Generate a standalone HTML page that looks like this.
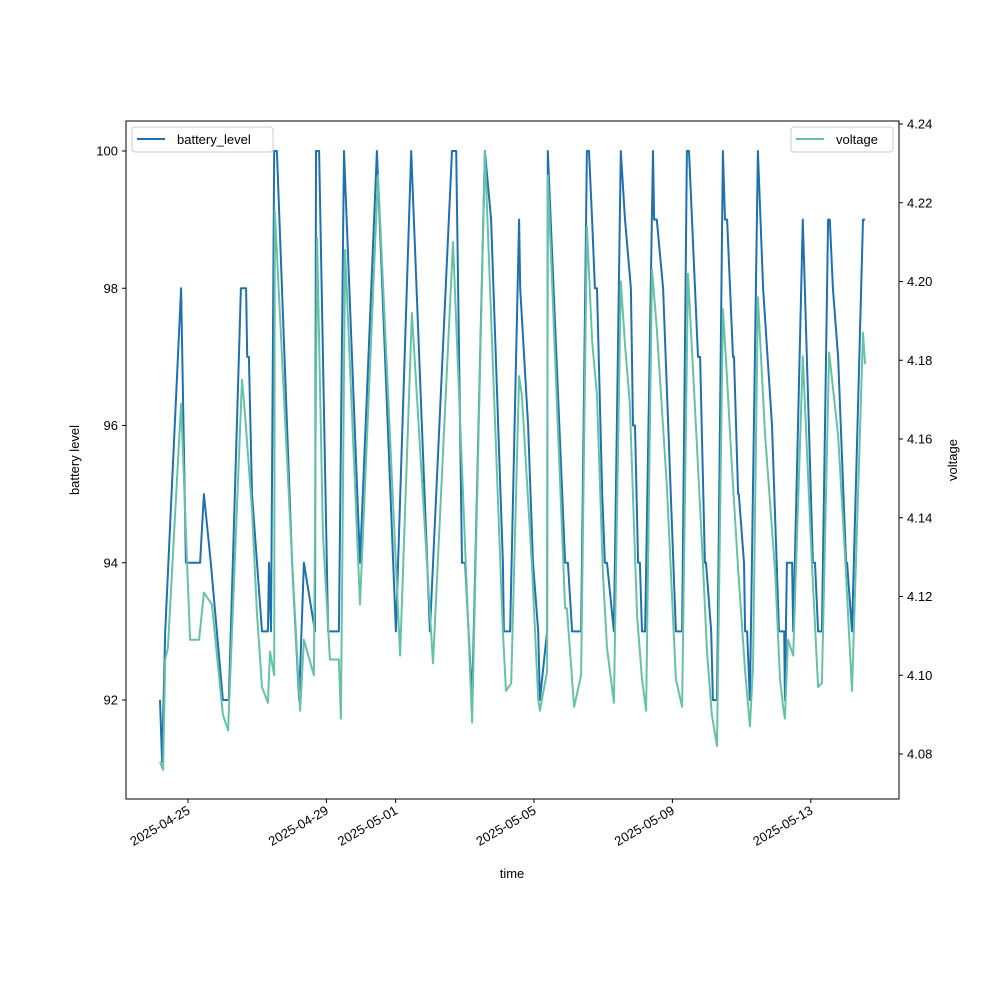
<!DOCTYPE html>
<html><head><meta charset="utf-8"><style>
body{margin:0;background:#fff}
svg text{font-family:"Liberation Sans","DejaVu Sans",sans-serif;font-size:13px;fill:#000}
</style></head><body>
<svg id="chart" width="1000" height="1000" viewBox="0 0 1000 1000" xmlns="http://www.w3.org/2000/svg">
<rect x="0" y="0" width="1000" height="1000" fill="#fff"/>
<g id="plot"></g>
</svg>
<script>
const battT=[-0.81,-0.75,-0.66,-0.20,-0.06,0.35,0.46,0.66,1.01,1.18,1.53,1.68,1.71,1.76,1.85,2.14,2.31,2.34,2.40,2.49,2.57,3.01,3.21,3.35,3.67,3.70,3.79,4.05,4.36,4.51,4.97,5.46,6.01,6.45,6.99,7.63,7.75,7.92,8.01,8.21,8.58,8.76,9.10,9.13,9.31,9.57,9.60,9.83,9.97,10.12,10.17,10.38,10.40,10.90,10.98,11.10,11.36,11.53,11.59,11.68,11.76,11.82,11.97,12.05,12.11,12.31,12.51,12.63,12.80,12.86,12.92,13.01,13.06,13.12,13.21,13.44,13.47,13.55,13.73,14.10,14.28,14.42,14.48,14.74,14.80,14.94,14.97,15.12,15.17,15.29,15.46,15.52,15.58,15.75,15.78,15.90,15.92,16.07,16.10,16.16,16.24,16.47,16.62,16.88,17.08,17.23,17.25,17.31,17.46,17.49,17.77,18.06,18.12,18.21,18.32,18.50,18.55,18.64,18.79,19.02,19.05,19.19,19.51,19.57];
const battV=[92,91.1,93,98,94,94,95,94,92,92,98,98,97,97,95,93,93,94,93,100,100,94,92,94,93,100,100,93,93,100,94,100,93,100,93,100,100,94,94,92,100,99,94,93,93,99,98,96,94,93,92,93,100,94,94,93,93,100,100,99,98,98,95,94,94,93,100,99,98,96,96,94,94,93,93,100,99,99,98,93,93,100,100,97,97,94,94,93,92,92,100,99,99,97,97,95,95,94,93,93,92,100,98,96,93,93,92,94,94,93,99,94,94,93,93,99,99,98,97,94,94,93,99,99];
const voltT=[-0.81,-0.72,-0.66,-0.58,-0.20,-0.03,0.06,0.32,0.46,0.69,1.01,1.16,1.56,1.65,1.85,1.99,2.14,2.31,2.37,2.49,2.51,3.01,3.24,3.35,3.64,3.73,3.90,4.10,4.36,4.42,4.54,4.97,5.49,6.13,6.47,7.08,7.66,8.21,8.58,9.10,9.19,9.34,9.57,9.65,9.94,10.12,10.17,10.38,10.40,10.90,10.95,11.16,11.36,11.53,11.68,11.82,11.99,12.11,12.31,12.51,12.63,12.77,12.98,13.12,13.24,13.41,13.55,13.84,14.10,14.28,14.45,14.71,14.88,15.00,15.14,15.29,15.46,15.55,15.72,15.90,16.10,16.24,16.33,16.47,16.68,16.97,17.11,17.20,17.25,17.34,17.49,17.77,18.03,18.21,18.32,18.53,18.79,18.99,19.19,19.51,19.57];
const voltV=[4.078,4.076,4.104,4.107,4.169,4.129,4.109,4.109,4.121,4.118,4.090,4.086,4.175,4.166,4.142,4.116,4.097,4.093,4.106,4.100,4.218,4.129,4.091,4.109,4.100,4.211,4.136,4.104,4.104,4.089,4.208,4.118,4.227,4.105,4.192,4.103,4.210,4.088,4.233,4.111,4.096,4.098,4.176,4.171,4.128,4.094,4.091,4.101,4.227,4.117,4.117,4.092,4.100,4.214,4.185,4.171,4.126,4.107,4.093,4.200,4.184,4.169,4.115,4.099,4.091,4.203,4.188,4.148,4.099,4.092,4.202,4.158,4.129,4.106,4.090,4.082,4.193,4.180,4.153,4.127,4.101,4.087,4.102,4.196,4.161,4.126,4.099,4.092,4.089,4.109,4.105,4.181,4.129,4.097,4.098,4.182,4.161,4.130,4.096,4.187,4.179];
const leftTicks=[92,94,96,98,100];
const rightTicks=[4.08,4.10,4.12,4.14,4.16,4.18,4.20,4.22,4.24];
const xTickDays=[0,4,6,10,14,18];
const xTickLabels=["2025-04-25","2025-04-29","2025-05-01","2025-05-05","2025-05-09","2025-05-13"];

const L=126,R=899,T=121,B=799;
const xs=t=>188+t*34.6;
const yl=v=>151+(100-v)*68.625;
const yr=v=>124+(4.24-v)*3937.5;
const NS="http://www.w3.org/2000/svg";
const g=document.getElementById('plot');
function mk(tag,attrs,parent){const e=document.createElementNS(NS,tag);for(const k in attrs)e.setAttribute(k,attrs[k]);(parent||g).appendChild(e);return e;}

// series
let d='';battT.forEach((t,i)=>{d+=(i?'L':'M')+xs(t).toFixed(1)+','+yl(battV[i]).toFixed(1);});
const bl=mk('path',{d:d,fill:'none',stroke:'#1f70b0','stroke-width':2,'stroke-linejoin':'round'});


d='';voltT.forEach((t,i)=>{d+=(i?'L':'M')+xs(t).toFixed(1)+','+yr(voltV[i]).toFixed(1);});
const vl=mk('path',{d:d,fill:'none',stroke:'#66c2a5','stroke-width':2,'stroke-linejoin':'round'});



// frame
const fr=mk('rect',{x:L,y:T,width:R-L,height:B-T,fill:'none',stroke:'#000','stroke-width':1});



leftTicks.forEach(v=>{const y=yl(v);
 mk('line',{x1:L-4,x2:L,y1:y,y2:y,stroke:'#000'});
 const t=mk('text',{x:L-8,y:y+4.5,'text-anchor':'end'});t.textContent=v;
 
 });
rightTicks.forEach(v=>{const y=yr(v);
 mk('line',{x1:R,x2:R+4,y1:y,y2:y,stroke:'#000'});
 const t=mk('text',{x:R+8,y:y+4.5,'text-anchor':'start'});t.textContent=v.toFixed(2);
 
 });
xTickDays.forEach((dd,i)=>{const x=xs(dd);
 mk('line',{x1:x,x2:x,y1:B,y2:B+4,stroke:'#000'});
 const t=mk('text',{x:x+3,y:B+14,'text-anchor':'end',transform:`rotate(-30 ${x+3} ${B+14})`});t.textContent=xTickLabels[i];
 
 });

const xt=mk('text',{x:512,y:878,'text-anchor':'middle'});xt.textContent='time';


const ylT=mk('text',{x:79,y:460,'text-anchor':'middle',transform:'rotate(-90 79 460)'});ylT.textContent='battery level';


const yrT=mk('text',{x:957,y:460,'text-anchor':'middle',transform:'rotate(-90 957 460)'});yrT.textContent='voltage';



// legends
const lg1=mk('g',{});


mk('rect',{x:132,y:127,width:141,height:25,rx:3,fill:'#fff','fill-opacity':0.8,stroke:'#ccc'},lg1);
mk('line',{x1:137,x2:165,y1:139,y2:139,stroke:'#1f70b0','stroke-width':2},lg1);
const t1=mk('text',{x:177,y:144},lg1);t1.textContent='battery_level';
const lg2=mk('g',{});


mk('rect',{x:791,y:127,width:102,height:25,rx:3,fill:'#fff','fill-opacity':0.8,stroke:'#ccc'},lg2);
mk('line',{x1:796,x2:824,y1:139,y2:139,stroke:'#66c2a5','stroke-width':2},lg2);
const t2=mk('text',{x:836,y:144},lg2);t2.textContent='voltage';
</script>
</body></html>
